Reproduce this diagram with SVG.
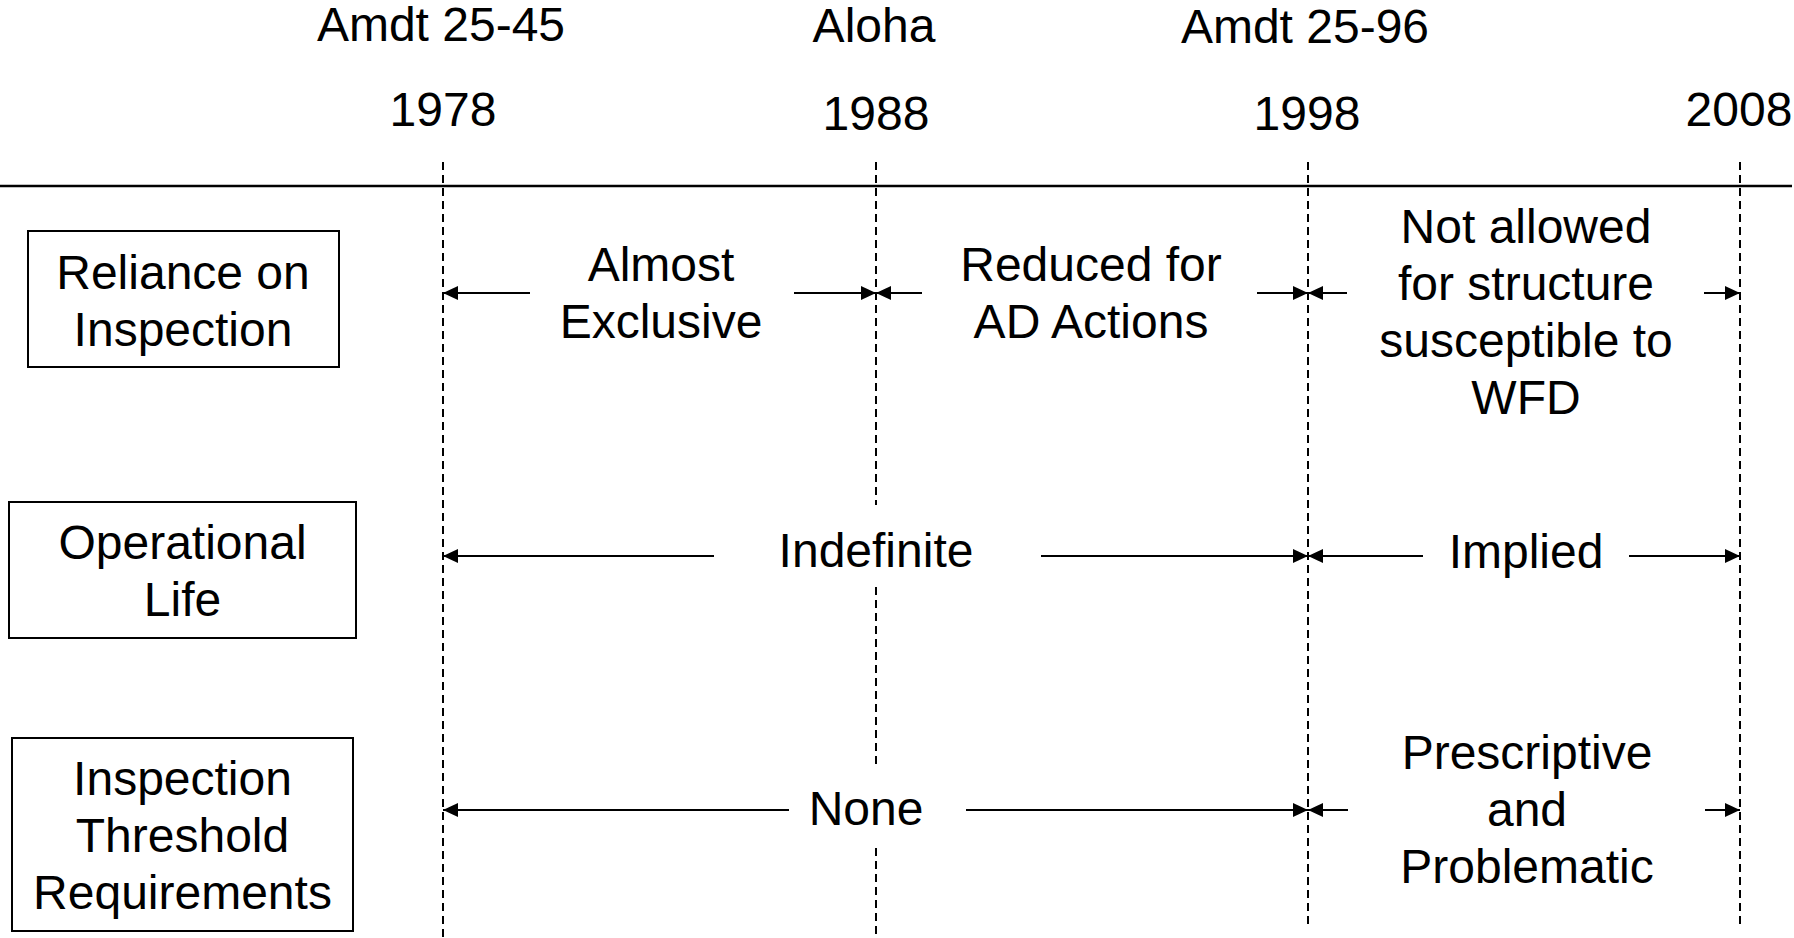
<svg xmlns="http://www.w3.org/2000/svg" width="1794" height="938" viewBox="0 0 1794 938">
<defs>
<style>
text{font-family:"Liberation Sans",Arial,sans-serif;font-size:48px;fill:#000;text-anchor:middle}
.box{fill:#fff;stroke:#000;stroke-width:2}
.dash{stroke:#000;stroke-width:2;stroke-dasharray:8 5;fill:none}
.arr{stroke:#000;stroke-width:2;fill:none;marker-end:url(#ah)}
.axis{stroke:#000;stroke-width:2.5}
</style>
<marker id="ah" markerUnits="userSpaceOnUse" markerWidth="16" markerHeight="14" refX="15" refY="7" orient="auto">
<path d="M0,0 L15,7 L0,14 z" fill="#000"/>
</marker>
</defs>
<rect width="1794" height="938" fill="#fff"/>

<g id="header">
<text x="441" y="41">Amdt 25-45</text>
<text x="874" y="42">Aloha</text>
<text x="1305" y="43">Amdt 25-96</text>
<text x="443" y="126">1978</text>
<text x="876" y="130">1988</text>
<text x="1307" y="130">1998</text>
<text x="1739" y="126">2008</text>
<line class="axis" x1="0" y1="186" x2="1792" y2="186"/>
</g>

<g id="timelines">
<line class="dash" x1="443" y1="162" x2="443" y2="938"/>
<line class="dash" x1="876" y1="162" x2="876" y2="505"/>
<line class="dash" x1="876" y1="587" x2="876" y2="769"/>
<line class="dash" x1="876" y1="848" x2="876" y2="938"/>
<line class="dash" x1="1308" y1="162" x2="1308" y2="925"/>
<line class="dash" x1="1740" y1="162" x2="1740" y2="925"/>
</g>

<g id="node-reliance">
<rect class="box" x="28" y="231" width="311" height="136"/>
<text x="183" y="289">Reliance on</text>
<text x="183" y="346">Inspection</text>
</g>
<g id="node-operational">
<rect class="box" x="9" y="502" width="347" height="136"/>
<text x="182.5" y="559">Operational</text>
<text x="182.5" y="616">Life</text>
</g>
<g id="node-threshold">
<rect class="box" x="12" y="738" width="341" height="193"/>
<text x="182.5" y="795">Inspection</text>
<text x="182.5" y="852">Threshold</text>
<text x="182.5" y="909">Requirements</text>
</g>

<g id="labels">
<text x="661" y="281">Almost</text>
<text x="661" y="338">Exclusive</text>
<text x="1091" y="281">Reduced for</text>
<text x="1091" y="338">AD Actions</text>
<text x="1526" y="243">Not allowed</text>
<text x="1526" y="300">for structure</text>
<text x="1526" y="357">susceptible to</text>
<text x="1526" y="414">WFD</text>
<text x="876" y="567">Indefinite</text>
<text x="1526" y="568">Implied</text>
<text x="866" y="825">None</text>
<text x="1527" y="769">Prescriptive</text>
<text x="1527" y="826">and</text>
<text x="1527" y="883">Problematic</text>
</g>

<g id="connectors">
<line class="arr" x1="530" y1="293" x2="443" y2="293"/>
<line class="arr" x1="794" y1="293" x2="876" y2="293"/>
<line class="arr" x1="922" y1="293" x2="876" y2="293"/>
<line class="arr" x1="1257" y1="293" x2="1308" y2="293"/>
<line class="arr" x1="1347" y1="293" x2="1308" y2="293"/>
<line class="arr" x1="1704" y1="293" x2="1740" y2="293"/>
<line class="arr" x1="714" y1="556" x2="443" y2="556"/>
<line class="arr" x1="1041" y1="556" x2="1308" y2="556"/>
<line class="arr" x1="1423" y1="556" x2="1308" y2="556"/>
<line class="arr" x1="1629" y1="556" x2="1740" y2="556"/>
<line class="arr" x1="789" y1="810" x2="443" y2="810"/>
<line class="arr" x1="966" y1="810" x2="1308" y2="810"/>
<line class="arr" x1="1348" y1="810" x2="1308" y2="810"/>
<line class="arr" x1="1705" y1="810" x2="1740" y2="810"/>
</g>
</svg>
